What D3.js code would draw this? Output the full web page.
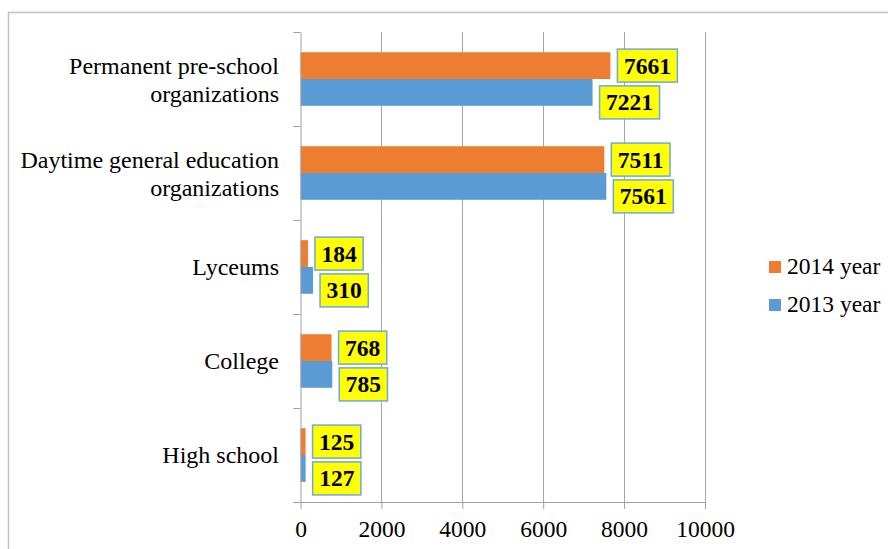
<!DOCTYPE html>
<html>
  <head>
    <meta charset="utf-8">
    <title>Educational organizations</title>
    <style media="screen">
    body{margin: 0; background: #fff}
    text{font-family: "Liberation Serif", "Times New Roman", serif}
    </style>
  </head>
  <body>
    <script src="https://d3js.org/d3.v7.min.js"></script>
    <script type="text/javascript">
      var w = 888, h = 549;

      // data
      var categories = [
        ["Permanent pre-school", "organizations"],
        ["Daytime general education", "organizations"],
        ["Lyceums"],
        ["College"],
        ["High school"]
      ];
      var seriesNames = ["2014 year", "2013 year"];
      var values2014 = [7661, 7511, 184, 768, 125];
      var values2013 = [7221, 7561, 310, 785, 127];
      var xTicks = [0, 2000, 4000, 6000, 8000, 10000];
      var colors = ["#ED7D31", "#5B9BD5"];

      var series = [values2014, values2013];
      var fs = 23.5;

      var svg = d3.select('body').append('svg')
        .attr('width', w)
        .attr('height', h)

      // chart frame (right and bottom edges fall outside the picture)
      svg.append('rect')
        .attr('x', 8.5).attr('y', 12.5)
        .attr('width', w + 20).attr('height', h + 20)
        .attr('fill', 'none')
        .attr('stroke', '#c0c0c0')
        .attr('stroke-width', 1.5)

      var pLeft = 300.5, pRight = 705, pTop = 32, pBottom = 502;

      var x = d3.scaleLinear().domain([0, 10000]).range([pLeft, pRight])
      var idx = d3.range(categories.length)
      var y = d3.scaleBand().domain(idx).range([pTop, pBottom])
        .paddingInner(0.43).paddingOuter(0.215)
      var ySub = d3.scaleBand().domain([0, 1]).range([0, y.bandwidth()])
      var yEdge = d3.scaleLinear().domain([0, categories.length]).range([pTop, pBottom])

      // vertical gridlines
      svg.append('g').selectAll('line')
        .data(xTicks.slice(1))
        .enter().append('line')
          .attr('x1', function(d){ return Math.round(x(d)) + 0.5 })
          .attr('x2', function(d){ return Math.round(x(d)) + 0.5 })
          .attr('y1', pTop).attr('y2', pBottom)
          .attr('stroke', '#a6a6a6')
          .attr('stroke-width', 1)

      // bars
      series.forEach(function(vals, s){
        svg.append('g').selectAll('rect')
          .data(vals)
          .enter().append('rect')
            .attr('x', x(0))
            .attr('y', function(d, i){ return y(i) + ySub(s) })
            .attr('width', function(d){ return x(d) - x(0) })
            .attr('height', ySub.bandwidth())
            .attr('fill', colors[s])
      })

      // x axis
      var xAxis = svg.append('g')
        .attr('transform', 'translate(0,' + pBottom + ')')
        .call(d3.axisBottom(x).tickValues(xTicks).tickSize(7).tickSizeOuter(0)
          .tickPadding(12).tickFormat(d3.format('d')))
      xAxis.select('.domain').attr('stroke', '#a0a0a0')
      xAxis.selectAll('.tick line').attr('stroke', '#a0a0a0')
      xAxis.selectAll('.tick text')
        .attr('fill', '#000')
        .attr('font-size', fs)
        .attr('font-family', '"Liberation Serif", serif')
        .attr('dy', '0.66em')

      // y axis, ticks sit on the category boundaries
      var yAxis = svg.append('g')
        .attr('transform', 'translate(' + pLeft + ',0)')
        .call(d3.axisLeft(yEdge).tickValues(d3.range(categories.length + 1))
          .tickSize(7).tickSizeOuter(0).tickFormat(''))
      yAxis.select('.domain').attr('stroke', '#a0a0a0')
      yAxis.selectAll('.tick line').attr('stroke', '#a0a0a0')

      // category labels
      svg.append('g').selectAll('text')
        .data(categories)
        .enter().append('text')
          .attr('text-anchor', 'end')
          .attr('font-size', 24)
          .attr('fill', '#000')
          .each(function(lines, i){
            var cy = y(i) + y.bandwidth() / 2
            var t = d3.select(this)
            var y0 = lines.length > 1 ? cy - 5 : cy + 8
            lines.forEach(function(l, k){
              t.append('tspan').attr('x', 279).attr('y', y0 + k * 28).text(l)
            })
          })

      // value labels in yellow boxes; the 2013 ones are nudged down to clear the 2014 ones
      var labelShift = [0, 10]
      series.forEach(function(vals, s){
        var g = svg.append('g').selectAll('g')
          .data(vals)
          .enter().append('g')
        var rect = g.append('rect')
        var txt = g.append('text')
          .attr('font-size', fs)
          .attr('font-weight', 'bold')
          .attr('fill', '#000')
          .text(function(d){ return d })
        txt.each(function(d, i){
          var tw = this.getComputedTextLength()
          var cy = y(i) + ySub(s) + ySub.bandwidth() / 2 + labelShift[s]
          var bx = x(d) + 7
          d3.select(this).attr('x', bx + 6.5).attr('y', cy + 8)
          d3.select(rect.nodes()[i])
            .attr('x', bx).attr('y', cy - 16.5)
            .attr('width', tw + 13).attr('height', 33)
            .attr('fill', '#FFFF00')
            .attr('stroke', '#6FA8DC')
            .attr('stroke-width', 1.5)
        })
      })

      // legend
      var legend = svg.append('g').selectAll('g')
        .data(seriesNames)
        .enter().append('g')
          .attr('transform', function(d, i){ return 'translate(769,' + (261 + i * 38) + ')' })
      legend.append('rect')
        .attr('width', 12).attr('height', 12)
        .attr('fill', function(d, i){ return colors[i] })
      legend.append('text')
        .attr('x', 18).attr('y', 12.5)
        .attr('font-size', fs)
        .attr('fill', '#000')
        .text(function(d){ return d })
    </script>
  </body>
</html>
